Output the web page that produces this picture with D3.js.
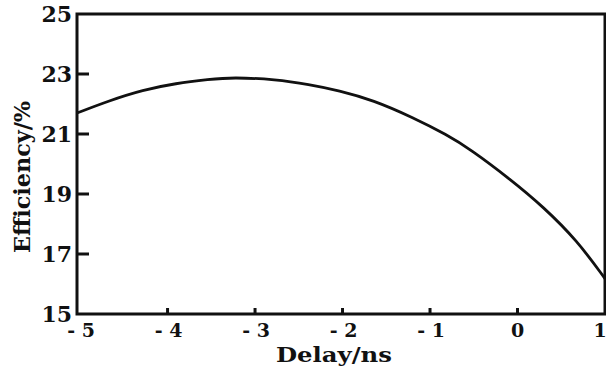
<!DOCTYPE html>
<html>
<head>
<meta charset="utf-8">
<script src="https://cdn.jsdelivr.net/npm/d3@7"></script>
<style>
  html, body { margin: 0; padding: 0; background: #fff; }
  svg { display: block; }
  text { font-family: "DejaVu Serif", serif; font-weight: bold; fill: #111; }
</style>
</head>
<body>
<svg id="chart" width="606" height="367"></svg>
<script>
// ---- data ----
const xTicks = [-5, -4, -3, -2, -1, 0, 1];
const yTicks = [15, 17, 19, 21, 23, 25];
const delay = [-5.035, -4.669, -4.284, -3.904, -3.527, -3.256, -2.761, -2.384, -2.041,
               -1.652, -1.195, -0.806, -0.544, -0.086, 0.292, 0.681, 1.0];
const efficiency = [21.70, 22.11, 22.47, 22.69, 22.82, 22.89, 22.82, 22.65, 22.45,
                    22.13, 21.55, 20.97, 20.50, 19.50, 18.58, 17.45, 16.18];
const xTitle = "Delay/ns";
const yTitle = "Efficiency/%";

// ---- layout ----
const svg = d3.select("#chart");
const x = d3.scaleLinear().domain([-5.035, 1]).range([77, 605]);
const y = d3.scaleLinear().domain([15, 25]).range([314, 14]);
const [x0, x1] = x.range();
const [y0, y1] = y.range();

// frame
svg.append("rect")
  .attr("x", x0).attr("y", y1)
  .attr("width", x1 - x0).attr("height", y0 - y1)
  .attr("fill", "none").attr("stroke", "#111").attr("stroke-width", 3);

// y ticks (inward) and labels
svg.append("g").selectAll("line")
  .data(yTicks.filter(d => d !== 15 && d !== 25))
  .join("line")
  .attr("x1", x0).attr("x2", x0 + 12)
  .attr("y1", d => y(d)).attr("y2", d => y(d))
  .attr("stroke", "#111").attr("stroke-width", 3);

svg.append("g").selectAll("text")
  .data(yTicks)
  .join("text")
  .attr("x", 72)
  .attr("y", d => y(d) + 8)
  .attr("text-anchor", "end")
  .attr("font-size", 22)
  .text(d => d);

// x ticks (inward) and labels
svg.append("g").selectAll("line")
  .data(xTicks.filter(d => d !== -5 && d !== 1))
  .join("line")
  .attr("x1", d => x(d)).attr("x2", d => x(d))
  .attr("y1", y0).attr("y2", y0 - 6)
  .attr("stroke", "#111").attr("stroke-width", 3);

svg.append("g").selectAll("text")
  .data(xTicks)
  .join("text")
  .attr("x", d => x(d) + (d === 1 ? -5 : (d < 0 ? 1 : 0)))
  .attr("y", 337)
  .attr("text-anchor", "middle")
  .attr("font-size", 19)
  .text(d => d < 0 ? "- " + Math.abs(d) : String(d));

// axis titles
svg.append("text")
  .attr("x", 334).attr("y", 362)
  .attr("text-anchor", "middle")
  .attr("font-size", 20)
  .attr("textLength", 116).attr("lengthAdjust", "spacingAndGlyphs")
  .text(xTitle);

svg.append("text")
  .attr("transform", "translate(30,177) rotate(-90)")
  .attr("text-anchor", "middle")
  .attr("font-size", 22)
  .attr("textLength", 152).attr("lengthAdjust", "spacingAndGlyphs")
  .text(yTitle);

// curve
const line = d3.line()
  .x((d, i) => x(delay[i]))
  .y(d => y(d))
  .curve(d3.curveBasis);

svg.append("path")
  .datum(efficiency)
  .attr("d", line)
  .attr("fill", "none")
  .attr("stroke", "#111")
  .attr("stroke-width", 2.8)
  .attr("stroke-linejoin", "round");
</script>
</body>
</html>
